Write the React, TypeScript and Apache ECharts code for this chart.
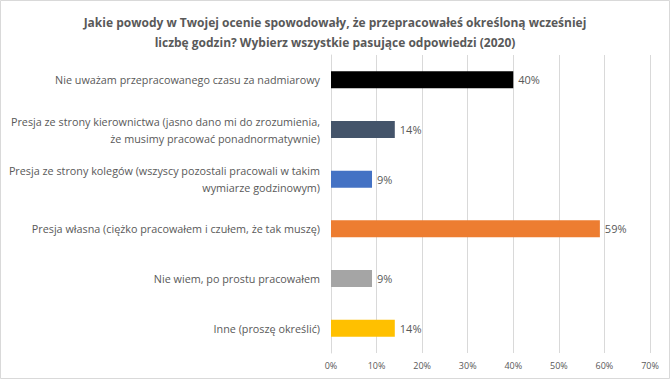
import React, { useEffect, useRef } from "react";
import * as echarts from "echarts";

const titleText =
  "Jakie powody w Twojej ocenie spowodowały, że przepracowałeś określoną wcześniej\nliczbę godzin? Wybierz wszystkie pasujące odpowiedzi (2020)";

const categories = [
  "Nie uważam przepracowanego czasu za nadmiarowy",
  "Presja ze strony kierownictwa (jasno dano mi do zrozumienia,\nże musimy pracować ponadnormatywnie)",
  "Presja ze strony kolegów (wszyscy pozostali pracowali w takim\nwymiarze godzinowym)",
  "Presja własna (ciężko pracowałem i czułem, że tak muszę)",
  "Nie wiem, po prostu pracowałem",
  "Inne (proszę określić)",
];

const values = [40, 14, 9, 59, 9, 14];

const barColors = ["#000000", "#44546a", "#4472c4", "#ed7d31", "#a5a5a5", "#ffc000"];

const FONT = "'Open Sans', sans-serif";

export default function App() {
  const ref = useRef<HTMLDivElement>(null);
  useEffect(() => {
    document.body.style.margin = "0";
    const chart = echarts.init(ref.current!, null, { renderer: "svg" });
    chart.setOption({
      animation: false,
      backgroundColor: "#ffffff",
      title: {
        text: titleText,
        left: "center",
        top: 7,
        textStyle: {
          fontFamily: FONT,
          fontSize: 12,
          fontWeight: "bold",
          color: "#595959",
          lineHeight: 20,
        },
      },
      grid: { left: 331, right: 20, top: 55, bottom: 26, containLabel: false },
      xAxis: {
        type: "value",
        min: 0,
        max: 70,
        interval: 10,
        axisLine: { show: false },
        axisTick: { show: false },
        splitLine: { show: true, lineStyle: { color: "#d9d9d9", width: 1 } },
        axisLabel: {
          formatter: "{value}%",
          fontFamily: FONT,
          fontSize: 9,
          color: "#595959",
          margin: 8,
        },
      },
      yAxis: {
        type: "category",
        data: categories,
        inverse: true,
        axisLine: { show: true, lineStyle: { color: "#d9d9d9" } },
        axisTick: { show: false },
        axisLabel: {
          fontFamily: FONT,
          fontSize: 10.8,
          color: "#595959",
          margin: 11,
          align: "right",
          lineHeight: 17,
        },
      },
      series: [
        {
          type: "bar",
          barWidth: 17,
          data: values.map((v, i) => ({ value: v, itemStyle: { color: barColors[i] } })),
          label: {
            show: true,
            position: "right",
            distance: 5,
            formatter: "{c}%",
            fontFamily: FONT,
            fontSize: 11,
            color: "#595959",
          },
        },
      ],
      graphic: [
        {
          type: "rect",
          shape: { x: 0.5, y: 0.5, width: 669, height: 378 },
          style: { fill: "none", stroke: "#d9d9d9", lineWidth: 1 },
          silent: true,
        },
      ],
    });
    return () => chart.dispose();
  }, []);
  return <div ref={ref} style={{ width: 670, height: 379 }} />;
}
